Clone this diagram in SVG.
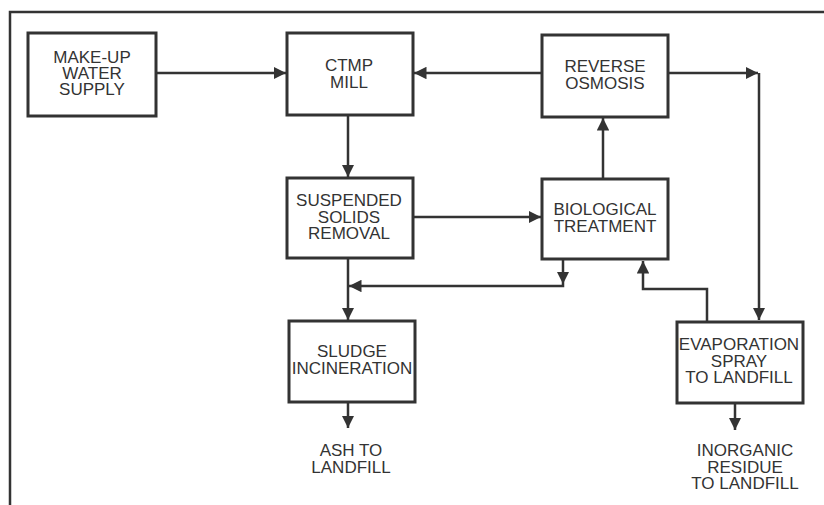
<svg xmlns="http://www.w3.org/2000/svg" width="824" height="505" viewBox="0 0 824 505">
<defs>
<marker id="ah" viewBox="0 0 10 10" refX="10" refY="5" markerWidth="5" markerHeight="5" markerUnits="strokeWidth" orient="auto">
<path d="M0,0 L10,5 L0,10 Z" fill="#333"/>
</marker>
<style>
.box{fill:#fff;stroke:#333;stroke-width:3}
.ln{fill:none;stroke:#333;stroke-width:2.5}
.ar{fill:none;stroke:#333;stroke-width:2.5;marker-end:url(#ah)}
text{font-family:"Liberation Sans",Arial,sans-serif;font-size:17px;fill:#333;text-anchor:middle}
</style>
</defs>
<rect width="824" height="505" fill="#fff"/>
<g id="frame">
<path class="ln" d="M10,505 V12 H824"/>
</g>
<g id="connectors">
<line class="ar" x1="156" y1="73" x2="286" y2="73"/>
<line class="ar" x1="542" y1="73" x2="414" y2="73"/>
<line class="ar" x1="668" y1="73" x2="758" y2="73"/>
<line class="ar" x1="759" y1="73" x2="759" y2="320"/>
<line class="ar" x1="348" y1="115" x2="348" y2="177"/>
<line class="ar" x1="413" y1="217" x2="541" y2="217"/>
<line class="ar" x1="603" y1="179" x2="603" y2="118"/>
<line class="ar" x1="348" y1="258" x2="348" y2="320"/>
<line class="ar" x1="563" y1="259" x2="563" y2="284"/>
<path class="ar" d="M563,284 V286 H349"/>
<path class="ar" d="M707,322 V289 H643 V261"/>
<line class="ar" x1="348" y1="402" x2="348" y2="428"/>
<line class="ar" x1="735" y1="403" x2="735" y2="430"/>
</g>
<g id="makeup">
<rect class="box" x="28" y="33" width="128" height="83"/>
<text x="92" y="63">MAKE-UP</text>
<text x="92" y="79">WATER</text>
<text x="92" y="95">SUPPLY</text>
</g>
<g id="ctmp">
<rect class="box" x="287" y="33" width="126" height="82"/>
<text x="349" y="71">CTMP</text>
<text x="349" y="88">MILL</text>
</g>
<g id="ro">
<rect class="box" x="542" y="35" width="126" height="82"/>
<text x="605" y="72">REVERSE</text>
<text x="605" y="89">OSMOSIS</text>
</g>
<g id="ssr">
<rect class="box" x="287" y="178" width="126" height="80"/>
<text x="349" y="206">SUSPENDED</text>
<text x="349" y="223">SOLIDS</text>
<text x="349" y="239">REMOVAL</text>
</g>
<g id="bio">
<rect class="box" x="542" y="179" width="126" height="80"/>
<text x="605" y="215">BIOLOGICAL</text>
<text x="605" y="232">TREATMENT</text>
</g>
<g id="sludge">
<rect class="box" x="289" y="321" width="126" height="81"/>
<text x="352" y="357">SLUDGE</text>
<text x="352" y="374">INCINERATION</text>
</g>
<g id="evap">
<rect class="box" x="677" y="322" width="126" height="81"/>
<text x="739" y="350">EVAPORATION</text>
<text x="739" y="367">SPRAY</text>
<text x="739" y="383">TO LANDFILL</text>
</g>
<g id="ash">
<text x="351" y="456">ASH TO</text>
<text x="351" y="473">LANDFILL</text>
</g>
<g id="inorganic">
<text x="745" y="456">INORGANIC</text>
<text x="745" y="473">RESIDUE</text>
<text x="745" y="489">TO LANDFILL</text>
</g>
</svg>
